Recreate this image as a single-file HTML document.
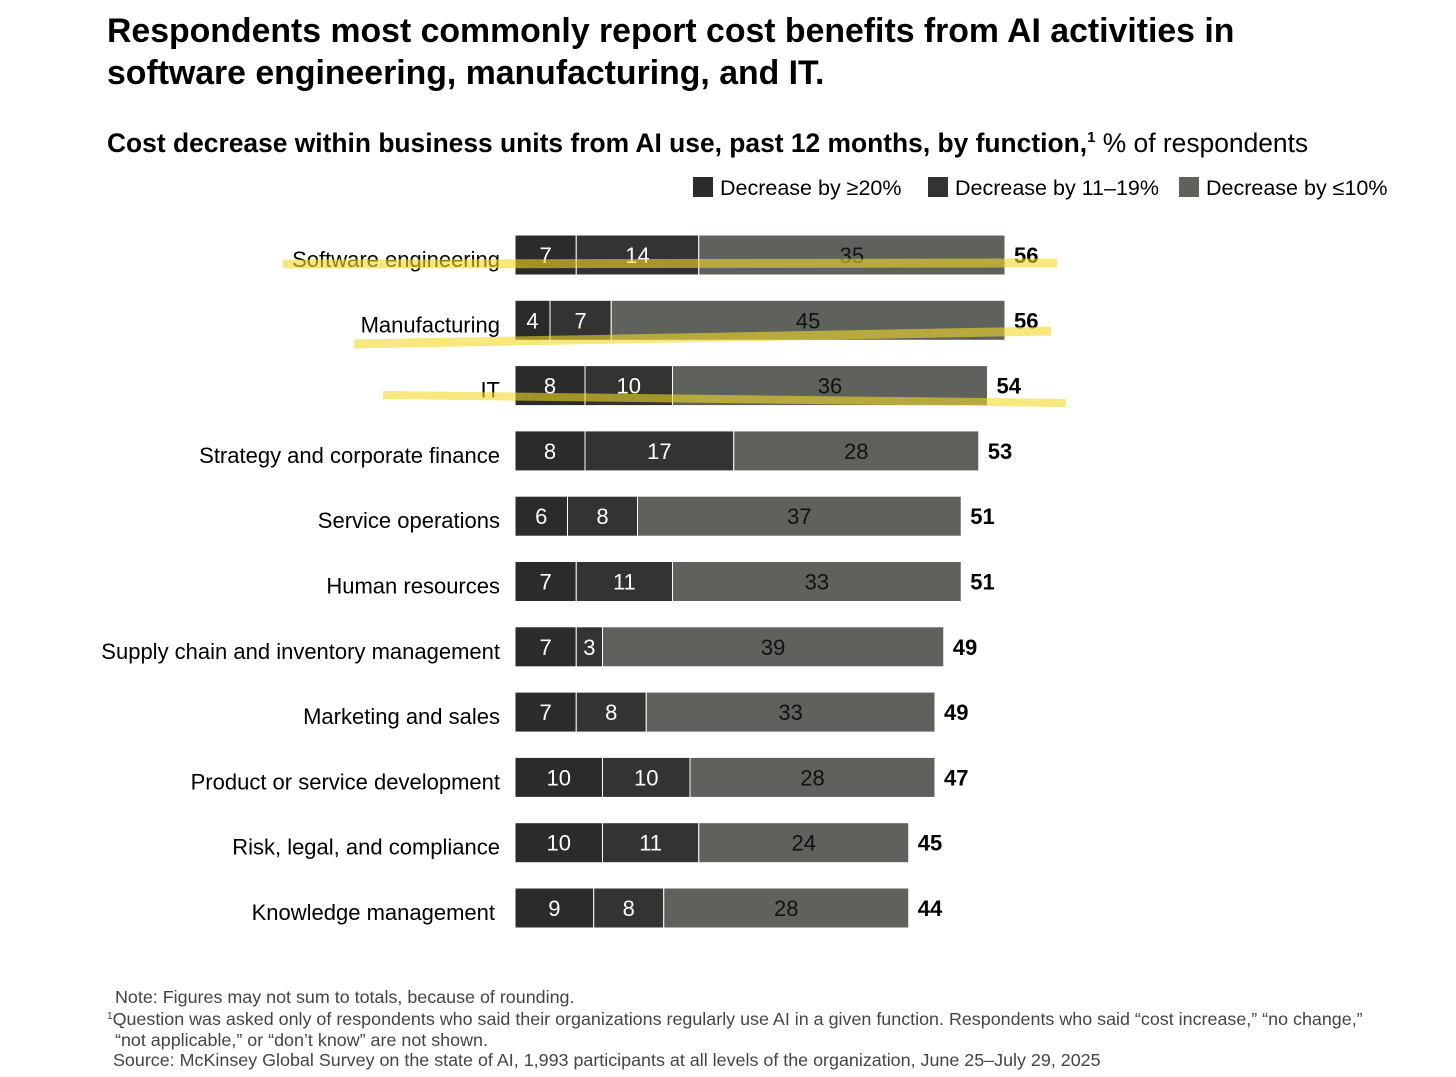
<!DOCTYPE html>
<html><head><meta charset="utf-8">
<style>
body{margin:0;background:#fff;width:1456px;height:1077px;overflow:hidden;font-family:"Liberation Sans",Arial,sans-serif;}
svg{position:absolute;left:0;top:0;}
</style></head>
<body>
<svg id="c" width="1456" height="1077">
<text x="107" y="42" font-size="33.8" font-weight="bold" fill="#000">Respondents most commonly report cost benefits from AI activities in</text>
<text x="107" y="84" font-size="33.8" font-weight="bold" fill="#000">software engineering, manufacturing, and IT.</text>
<text x="107" y="152" font-size="26.4" fill="#000"><tspan font-weight="bold">Cost decrease within business units from AI use, past 12 months, by function,</tspan><tspan font-weight="bold" font-size="15" dy="-10">1</tspan><tspan dy="10"> % of respondents</tspan></text>
<g>
<rect x="693" y="177" width="20" height="20" fill="#2b2b29"/>
<text x="720" y="195" font-size="21.5" fill="#000">Decrease by ≥20%</text>
<rect x="928" y="177" width="20" height="20" fill="#333331"/>
<text x="955" y="195" font-size="21.5" fill="#000">Decrease by 11–19%</text>
<rect x="1179" y="177" width="20" height="20" fill="#5f625c"/>
<text x="1206" y="195" font-size="21.5" fill="#000">Decrease by ≤10%</text>
</g>
<g id="bars"></g>
<g id="hl" opacity="0.6"></g>
<g font-size="17.9" fill="#444">
<text x="115" y="1003">Note: Figures may not sum to totals, because of rounding.</text>
<text x="107" y="1025"><tspan font-size="10" dy="-6">1</tspan><tspan dy="6">Question was asked only of respondents who said their organizations regularly use AI in a given function. Respondents who said “cost increase,” “no change,”</tspan></text>
<text x="115" y="1046">“not applicable,” or “don’t know” are not shown.</text>
<text x="113" y="1066">Source: McKinsey Global Survey on the state of AI, 1,993 participants at all levels of the organization, June 25–July 29, 2025</text>
</g>
</svg>
<script>
const categories=["Software engineering","Manufacturing","IT","Strategy and corporate finance","Service operations","Human resources","Supply chain and inventory management","Marketing and sales","Product or service development","Risk, legal, and compliance","Knowledge management"];
const dec20=[7,4,8,8,6,7,7,7,10,10,9];
const dec11=[14,7,10,17,8,11,3,8,10,11,8];
const dec10=[35,45,36,28,37,33,39,33,28,24,28];
const totals=[56,56,54,53,51,51,49,49,47,45,44];
const NS="http://www.w3.org/2000/svg";
const x0=515, scale=8.75, rowTop=235, rowStep=65.3, barH=40;
const xs=v=>v*scale;
const ys=i=>rowTop+i*rowStep;
const g=document.getElementById('bars');
const colors=["#2b2b29","#333331","#5f625c"];
const names=["bar-20plus","bar-11-19","bar-10less"];
function mk(tag,attrs){const e=document.createElementNS(NS,tag);for(const k in attrs)e.setAttribute(k,attrs[k]);return e;}
categories.forEach((c,i)=>{
  const y=ys(i);
  const lab=mk('text',{x:i==10?495:500,y:y+32,'font-size':22,'text-anchor':'end',fill:'#000'});
  
  
  lab.textContent=c;g.appendChild(lab);
  const vals=[dec20[i],dec11[i],dec10[i]];
  let x=x0;
  vals.forEach((v,j)=>{
    const w=xs(v);
    const r=mk('rect',{x:x,y:y,width:w,height:barH,fill:colors[j],stroke:'#fff','stroke-width':1});
    
    
    g.appendChild(r);
    const t=mk('text',{x:x+w/2,y:y+28,'font-size':22,'text-anchor':'middle',fill:j==2?'#111':'#fff'});
    
    
    t.textContent=v;g.appendChild(t);
    x+=w;
  });
  const tot=mk('text',{x:x+9,y:y+28,'font-size':22,'font-weight':'bold',fill:'#000'});
  
  
  tot.textContent=totals[i];g.appendChild(tot);
});
const hl=document.getElementById('hl');
[["M283 264 L1057 263",9],["M354 344 L1051 331",9],["M383 395 L1066 403",8]].forEach(([d,w])=>{
  const p=mk('path',{d:d,stroke:'#f2d92a','stroke-width':w,fill:'none'});
  
  
  hl.appendChild(p);
});
</script>
</body></html>
